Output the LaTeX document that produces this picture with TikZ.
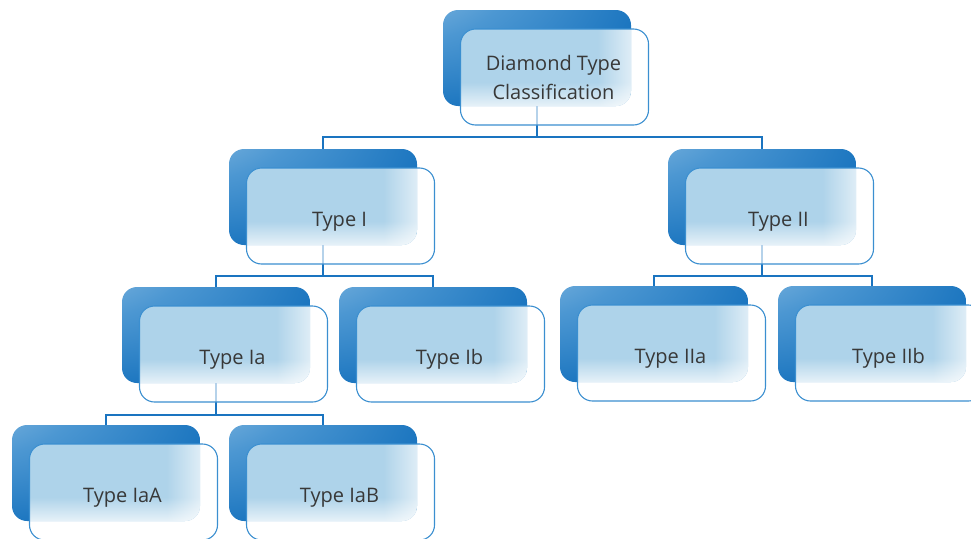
\documentclass[tikz,border=0pt]{standalone}
\usepackage{fontspec}
\setmainfont{Open Sans}
\usetikzlibrary{fadings}
\definecolor{lb}{HTML}{B0D3EC}
\definecolor{mb}{HTML}{4C97D2}
\definecolor{db}{HTML}{0868B8}
\definecolor{ov}{HTML}{AED3EA}
\definecolor{conncol}{HTML}{1A74C0}
\definecolor{edgecol}{HTML}{3B8FD0}
\definecolor{txtcol}{HTML}{383838}
\pgfdeclareradialshading{backshade}{\pgfpoint{-50bp}{50bp}}{color(0bp)=(lb); color(32bp)=(mb); color(68bp)=(db); color(150bp)=(db)}
\tikzfading[name=fadeup, top color=transparent!100, bottom color=transparent!0]
\tikzfading[name=faderight, left color=transparent!100, right color=transparent!0]
\tikzset{
  boxshape/.style={rectangle, minimum width=188pt, minimum height=96pt, inner sep=0pt, outer sep=0pt, anchor=north west},
  connline/.style={draw=conncol, line width=2pt},
  frontedge/.style={draw=edgecol, line width=1.1pt, rounded corners=15pt},
  lbl/.style={font=\fontsize{20pt}{29pt}\selectfont, text=txtcol, inner sep=0pt}
}
\newcommand\placebox[3]{%
  \node[boxshape] (#1) at (#2,#3) {};
  \node[boxshape] (#1F) at (#2+17.5,#3+19) {};
}
\newcommand\paintbox[1]{%
  \shade[shading=backshade, rounded corners=15pt] (#1.north west) rectangle (#1.south east);
  \fill[white, fill opacity=0.68, rounded corners=15pt] (#1F.north west) rectangle (#1F.south east);
  \begin{scope}
    \clip[rounded corners=15pt] (#1.north west) rectangle (#1.south east);
    \clip[rounded corners=15pt] (#1F.north west) rectangle (#1F.south east);
    \fill[ov] (#1F.north west) rectangle (#1F.south east);
    \fill[white, fill opacity=0.7, path fading=fadeup] (#1.south west) rectangle ([yshift=24pt]#1.south east);
    \fill[white, fill opacity=0.6, path fading=faderight] ([xshift=-34pt]#1.north east) rectangle (#1.south east);
  \end{scope}
  \draw[frontedge] (#1F.north west) rectangle (#1F.south east);
}
\begin{document}
\begin{tikzpicture}[x=1pt, y=-1pt]
\useasboundingbox (0,0) rectangle (971,538);
\placebox{root}{443}{10}
\placebox{t1}{229}{149}
\placebox{t2}{668}{149}
\placebox{ia}{122}{287}
\placebox{ib}{339}{287}
\placebox{iia}{560}{286}
\placebox{iib}{778}{286}
\placebox{iaa}{12}{425}
\placebox{iab}{229}{425}
\coordinate (bar0) at (0,137);
\coordinate (bar1) at (0,276);
\coordinate (bar3) at (0,415);
% connectors
\draw[connline] (root.center) -- (root.center |- bar0) -| (t1.center);
\draw[connline] (root.center |- bar0) -| (t2.center);
\draw[connline] (t1.center) -- (t1.center |- bar1) -| (ia.center);
\draw[connline] (t1.center |- bar1) -| (ib.center);
\draw[connline] (t2.center) -- (t2.center |- bar1) -| (iia.center);
\draw[connline] (t2.center |- bar1) -| (iib.center);
\draw[connline] (ia.center) -- (ia.center |- bar3) -| (iaa.center);
\draw[connline] (ia.center |- bar3) -| (iab.center);
% boxes
\paintbox{root}
\paintbox{t1}
\paintbox{t2}
\paintbox{ia}
\paintbox{ib}
\paintbox{iia}
\paintbox{iib}
\paintbox{iaa}
\paintbox{iab}
% labels
\node[lbl, align=center] (rootT) at ([xshift=-1pt]rootF.center) {Diamond Type\\Classification};
\node[lbl, anchor=base] (t1T) at ([xshift=-1pt, yshift=-10pt]t1F.center) {Type I};
\node[lbl, anchor=base] (t2T) at ([xshift=-1pt, yshift=-10pt]t2F.center) {Type II};
\node[lbl, anchor=base] (iaT) at ([xshift=-1pt, yshift=-10pt]iaF.center) {Type Ia};
\node[lbl, anchor=base] (ibT) at ([xshift=-1pt, yshift=-10pt]ibF.center) {Type Ib};
\node[lbl, anchor=base] (iiaT) at ([xshift=-1pt, yshift=-10pt]iiaF.center) {Type IIa};
\node[lbl, anchor=base] (iibT) at ([xshift=-1pt, yshift=-10pt]iibF.center) {Type IIb};
\node[lbl, anchor=base] (iaaT) at ([xshift=-1pt, yshift=-10pt]iaaF.center) {Type IaA};
\node[lbl, anchor=base] (iabT) at ([xshift=-1pt, yshift=-10pt]iabF.center) {Type IaB};
\end{tikzpicture}
\end{document}
